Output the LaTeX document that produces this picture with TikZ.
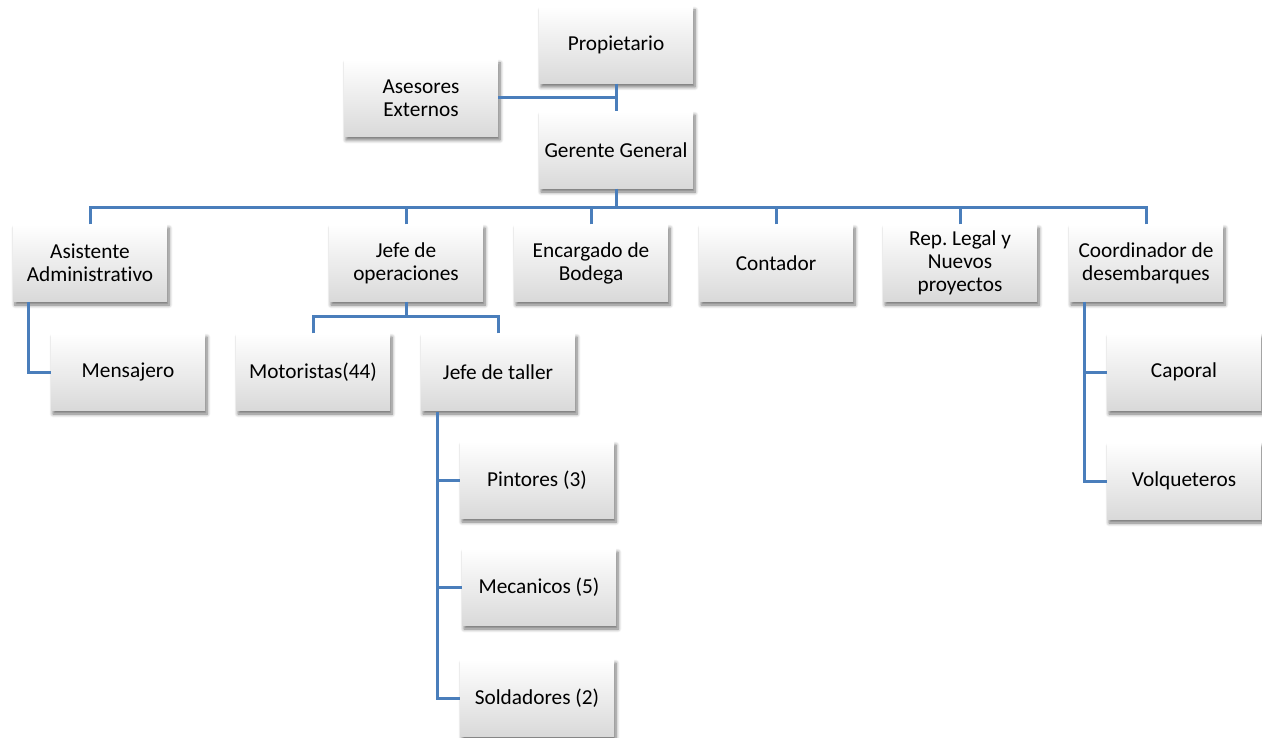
\documentclass[tikz,border=0pt]{standalone}
\usepackage{fontspec}
\setmainfont[Ligatures=NoCommon]{Carlito}
\frenchspacing
\usetikzlibrary{shadows.blur}
\definecolor{linkblue}{HTML}{4A7EBB}
\definecolor{boxbottom}{HTML}{D9D9D9}
\tikzset{
  box/.style={rectangle, minimum width=154pt, minimum height=77pt,
    top color=white, bottom color=boxbottom, draw=none,
    align=center, inner sep=2pt,
    font=\fontsize{21.3}{23}\selectfont,
    blur shadow={shadow xshift=2pt, shadow yshift=-3.5pt, shadow blur steps=6, shadow blur radius=3.5pt, shadow opacity=55}},
  link/.style={draw=linkblue, line width=3pt}
}
\begin{document}
\begin{tikzpicture}[x=1pt, y=-1pt]
\useasboundingbox (0,0) rectangle (1262,738);

% top management
\node[box] (pro) at (616,45)  {Propietario};
\node[box] (ase) at (421,98)  {Asesores\\Externos};
\node[box] (ger) at (616,150) {Gerente General};

% department heads
\node[box] (asi) at (90,263)   {Asistente\\Administrativo};
\node[box] (jop) at (406,263)  {Jefe de\\operaciones};
\node[box] (enc) at (591,263)  {Encargado de\\Bodega};
\node[box] (con) at (776,263)  {Contador};
\node[box] (rep) at (960,263)  {Rep. Legal y\\Nuevos\\proyectos};
\node[box] (coo) at (1146,263) {Coordinador de\\desembarques};

% staff
\node[box] (men) at (128,372)  {Mensajero};
\node[box] (mot) at (313,372)  {Motoristas(44)};
\node[box] (jta) at (498,372)  {Jefe de taller};
\node[box] (pin) at (537,480)  {Pintores (3)};
\node[box] (mec) at (539,587)  {Mecanicos (5)};
\node[box] (sol) at (537,698)  {Soldadores (2)};
\node[box] (cap) at (1184,372) {Caporal};
\node[box] (vol) at (1184,481) {Volqueteros};

% bus points
\coordinate (bus) at (616,208);
\coordinate (opbus) at (406,317);
\coordinate (asiv) at (28,302);
\coordinate (jtav) at (437,412);
\coordinate (coov) at (1084,302);

% connectors
\draw[link] (pro.south) -- (ger.north);
\draw[link] (ase.east) -- (ase.east -| pro.south);
\draw[link] (ger.south) -- (bus);
\foreach \n in {asi,jop,enc,con,rep,coo} \draw[link] (\n.north) |- (bus);
\draw[link] (jop.south) -- (opbus);
\draw[link] (mot.north) |- (opbus);
\draw[link] (jta.north) |- (opbus);
\draw[link] (asiv) |- (men.west);
\foreach \n in {pin,mec,sol} \draw[link] (jtav) |- (\n.west);
\foreach \n in {cap,vol} \draw[link] (coov) |- (\n.west);
\end{tikzpicture}
\end{document}
